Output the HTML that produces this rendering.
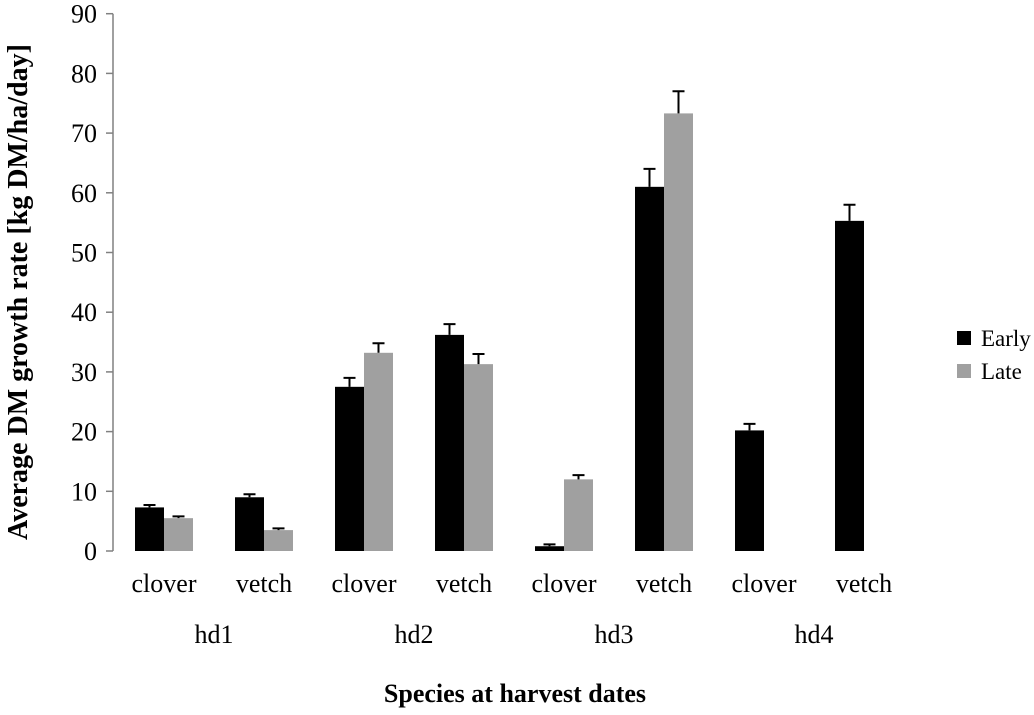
<!DOCTYPE html>
<html><head><meta charset="utf-8"><style>
body{margin:0;background:#fff;}
svg text{font-family:"Liberation Serif",serif;}
</style></head><body>
<svg id="c" width="1034" height="710" xmlns="http://www.w3.org/2000/svg"></svg>
<script>
const species=["clover","vetch","clover","vetch","clover","vetch","clover","vetch"];
const harvest=["hd1","hd2","hd3","hd4"];
const early=[7.3,9,27.5,36.2,0.8,61,20.2,55.3];
const earlyErr=[0.4,0.5,1.5,1.8,0.3,3,1.1,2.7];
const late=[5.5,3.5,33.2,31.3,12,73.3,null,null];
const lateErr=[0.3,0.3,1.6,1.7,0.7,3.7,null,null];
const yTicks=[0,10,20,30,40,50,60,70,80,90];
const ns="http://www.w3.org/2000/svg";
const svg=document.getElementById('c');
const y=v=>551-v*5.97;
const xc=i=>164+i*100;
function mk(t,a,p){const e=document.createElementNS(ns,t);for(const k in a)e.setAttribute(k,a[k]);(p||svg).appendChild(e);return e;}
let ax=mk('line',{x1:113,x2:113,y1:y(90),y2:y(0),stroke:'#808080','stroke-width':1.5});


yTicks.forEach(v=>{
 let t=mk('line',{x1:106,x2:113,y1:y(v),y2:y(v),stroke:'#808080','stroke-width':1.5});
 
 
 let l=mk('text',{x:97,y:y(v)+9,'text-anchor':'end','font-size':26});
 l.textContent=v;
 
 
});
function bar(v,e,x,fill,name){
 if(v==null)return;
 let r=mk('rect',{x:x,y:y(v),width:29,height:y(0)-y(v),fill:fill});
 
 
 const cx=x+14.5;
 let g=mk('path',{d:`M${cx},${y(v)}V${y(v+e)}M${cx-6},${y(v+e)}H${cx+6}`,stroke:'#000','stroke-width':2,fill:'none'});
 
 
}
species.forEach((s,i)=>{
 bar(early[i],earlyErr[i],xc(i)-29,'#000','bar-early');
 bar(late[i],lateErr[i],xc(i),'#a0a0a0','bar-late');
 let l=mk('text',{x:xc(i),y:592,'text-anchor':'middle','font-size':26});
 l.textContent=s;
 
 
});
harvest.forEach((h,j)=>{
 let l=mk('text',{x:xc(2*j)+50,y:643,'text-anchor':'middle','font-size':26});
 l.textContent=h;
 
 
});
let xt=mk('text',{x:515,y:702,'text-anchor':'middle','font-size':26,'font-weight':'bold'});
xt.textContent='Species at harvest dates';


let yt=mk('text',{x:0,y:0,'text-anchor':'middle','font-size':28,'font-weight':'bold',transform:'translate(27,292) rotate(-90)'});
yt.textContent='Average DM growth rate [kg DM/ha/day]';


[['Early','#000',339],['Late','#a0a0a0',372]].forEach(([n,c,yy])=>{
 let r=mk('rect',{x:957,y:yy-8,width:14,height:14,fill:c});
 
 
 let t=mk('text',{x:981,y:yy+7,'font-size':23});
 t.textContent=n;
 
 
});
</script>
</body></html>
